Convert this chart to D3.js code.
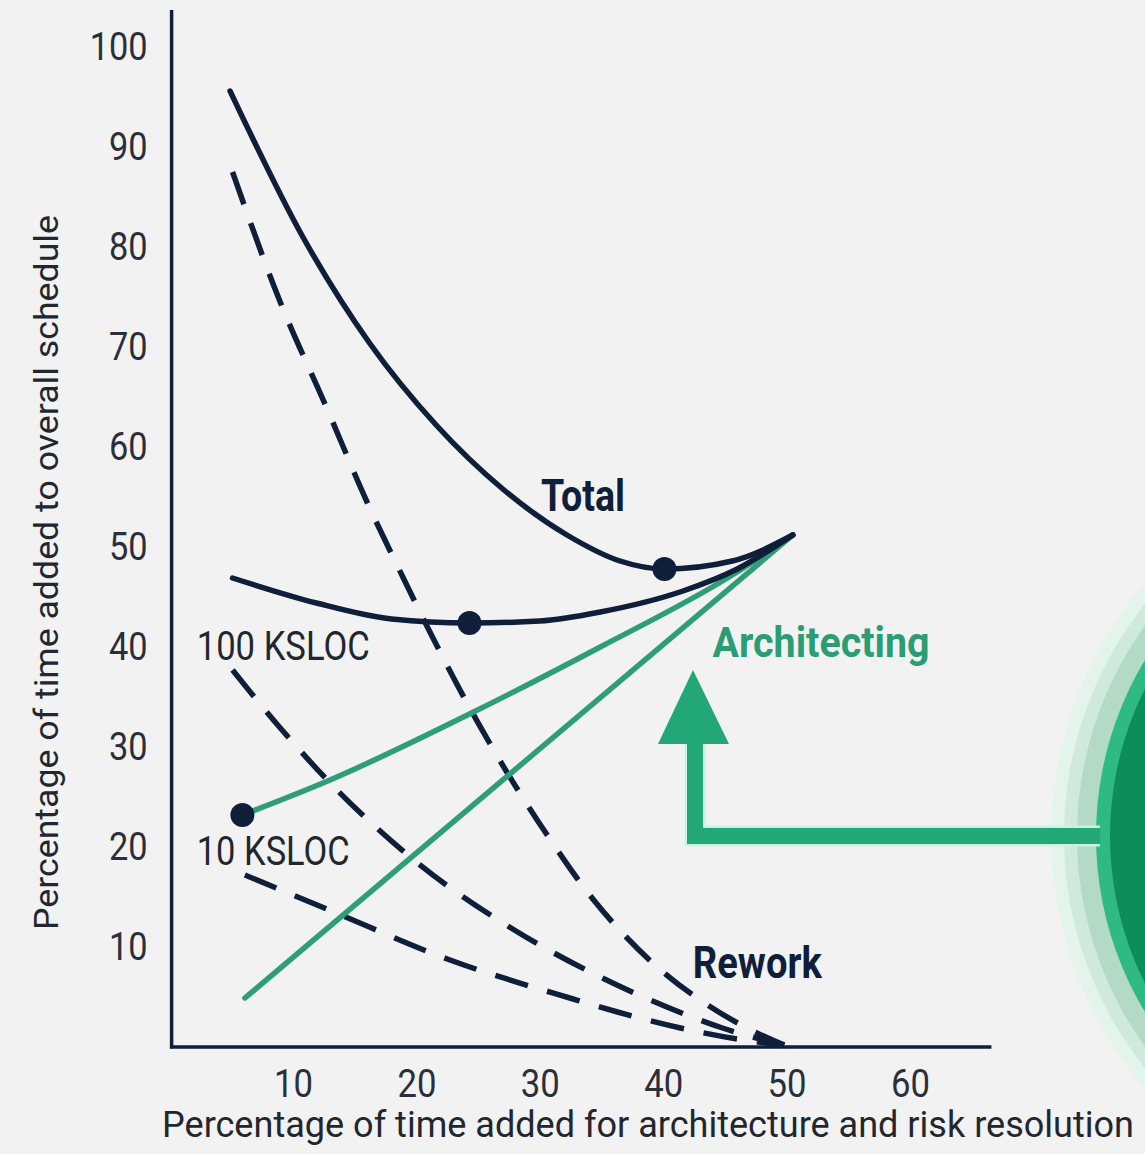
<!DOCTYPE html>
<html>
<head>
<meta charset="utf-8">
<script src="https://cdn.jsdelivr.net/npm/d3@7"></script>
<style>
  html, body { margin: 0; padding: 0; background: #f2f2f2; }
  svg { display: block; }
  text { font-family: Roboto, "Noto Sans", sans-serif; }
</style>
</head>
<body>
<svg id="chart" width="1145" height="1154"></svg>
<script>
// ---- data ----
const xTicks = [10, 20, 30, 40, 50, 60];
const yTicks = [10, 20, 30, 40, 50, 60, 70, 80, 90, 100];

const total100 = [[4.9,95.4],[10.8,80.8],[16.2,70.2],[21.6,62.0],[27.0,55.6],[32.2,51.0],[36.5,48.4],[40.1,47.6],[45.6,48.4],[50.5,51.0]];
const total10  = [[5.1,46.7],[11.9,44.2],[18.0,42.6],[24.3,42.2],[30.0,42.4],[34.9,43.3],[41.6,45.4],[46.0,47.6],[50.5,51.0]];
const arch10   = [[5.9,23.0],[13.0,26.5],[24.3,33.1],[34.9,39.8],[45.6,47.0],[50.5,51.0]];
const arch100  = [[6.1,4.7],[50.5,51.0]];
const rework100 = [[5.1,87.3],[8.9,74.5],[12.7,63.8],[16.0,54.3],[18.9,46.8],[21.3,40.8],[24.1,34.2],[26.5,29.0],[30.6,21.0],[34.3,14.6],[37.0,10.8],[39.7,7.6],[43.6,4.0],[46.8,1.7],[49.8,0]];
const rework10m = [[5.1,37.5],[8.9,31.8],[12.7,26.6],[19.7,18.6],[27.8,11.6],[34.9,6.8],[40.3,3.8],[44.8,1.7],[49.8,0]];
const rework10  = [[6.1,17.0],[13.5,13.2],[22.5,8.6],[32.7,4.6],[36.3,3.3],[41.4,1.7],[46.0,0.6],[49.8,0]];
const optimumPoints = [[40.1,47.6],[24.3,42.2],[5.9,23.0]];

const labels = [
  {text:"Total", x:30.1, y:53.4, w:84, size:44, weight:"bold", color:"#0f1f3a"},
  {text:"Rework", x:42.4, y:6.7, w:129, size:44, weight:"bold", color:"#0f1f3a"},
  {text:"Architecting", x:44.0, y:38.8, w:217, size:42, weight:"bold", color:"#2a9e72"},
  {text:"100 KSLOC", x:2.2, y:38.5, w:173, size:40, weight:"normal", color:"#22262e"},
  {text:"10 KSLOC", x:2.2, y:18.0, w:153, size:40, weight:"normal", color:"#22262e"}
];

const xTitle = "Percentage of time added for architecture and risk resolution";
const yTitle = "Percentage of time added to overall schedule";

// ---- setup ----
const navy = "#0f1f3a";
const green = "#2e9e78";
const svg = d3.select("#chart");

const x = d3.scaleLinear().domain([0, 60]).range([169.6, 910]);
const y = d3.scaleLinear().domain([0, 100]).range([1045, 45]);

// background
svg.append("rect").attr("width", 1145).attr("height", 1154).attr("fill", "#f2f2f2");

// decorative circle on right
const circ = svg.append("g");
circ.append("circle").attr("cx", 1437).attr("cy", 836).attr("r", 386).attr("fill", "#e2f4ec");
circ.append("circle").attr("cx", 1437).attr("cy", 836).attr("r", 373).attr("fill", "#cfe9dc");
circ.append("circle").attr("cx", 1437).attr("cy", 836).attr("r", 360).attr("fill", "#b3dac7");
circ.append("circle").attr("cx", 1437).attr("cy", 836).attr("r", 341).attr("fill", "#2fb985");
circ.append("circle").attr("cx", 1437).attr("cy", 836).attr("r", 327).attr("fill", "#0d8c5c");

// arrow (decoration)
const arrowColor = "#22a876";
svg.append("path")
  .attr("d", "M1100,836 L695,836 L695,740")
  .attr("fill", "none").attr("stroke", "#c9f3df").attr("stroke-width", 21)
  .attr("stroke-linejoin", "miter");
svg.append("path")
  .attr("d", "M1100,836 L695,836 L695,740")
  .attr("fill", "none").attr("stroke", arrowColor).attr("stroke-width", 16)
  .attr("stroke-linejoin", "miter");
svg.append("path")
  .attr("d", "M693,670 L729,744 L658,744 Z")
  .attr("fill", arrowColor);

// axes lines
svg.append("line").attr("x1", x(0) + 2).attr("x2", x(0) + 2)
  .attr("y1", y(103.5)).attr("y2", y(0) + 3.5)
  .attr("stroke", navy).attr("stroke-width", 3.5);
svg.append("line").attr("x1", x(0) + 0.5).attr("x2", x(66.6))
  .attr("y1", y(0) + 2).attr("y2", y(0) + 2)
  .attr("stroke", navy).attr("stroke-width", 3.5);

// tick labels via axes
const yAxis = d3.axisLeft(y).tickValues(yTicks).tickSize(0).tickPadding(0);
const gy = svg.append("g").attr("transform", `translate(${x(0)},0)`).call(yAxis);
gy.select(".domain").remove();
gy.selectAll("text")
  .attr("x", -22).attr("dy", "0.36em")
  .attr("font-size", 39).attr("fill", "#2a2f3a")
  .style("font-family", "Roboto, sans-serif")
  .attr("textLength", d => String(d).length * 19.3)
  .attr("lengthAdjust", "spacingAndGlyphs");

const xAxis = d3.axisBottom(x).tickValues(xTicks).tickSize(0).tickPadding(0);
const gx = svg.append("g").attr("transform", `translate(0,${y(0)})`).call(xAxis);
gx.select(".domain").remove();
gx.selectAll("text")
  .attr("y", 52).attr("dy", 0)
  .attr("font-size", 39).attr("fill", "#2a2f3a")
  .style("font-family", "Roboto, sans-serif")
  .attr("textLength", d => String(d).length * 19.5)
  .attr("lengthAdjust", "spacingAndGlyphs");

// axis titles
svg.append("text").attr("transform", "translate(162,1137) scale(1,1.16)")
  .attr("font-size", 32).attr("fill", "#22262e")
  .attr("textLength", 972).attr("lengthAdjust", "spacingAndGlyphs")
  .text(xTitle);
svg.append("text")
  .attr("transform", "translate(58,930) rotate(-90)")
  .attr("font-size", 33).attr("fill", "#22262e")
  .attr("textLength", 715).attr("lengthAdjust", "spacingAndGlyphs")
  .text(yTitle);

// lines
const line = d3.line().x(d => x(d[0])).y(d => y(d[1])).curve(d3.curveMonotoneX);

function draw(data, color, dashed) {
  svg.append("path").datum(data)
    .attr("d", line)
    .attr("fill", "none")
    .attr("stroke", color)
    .attr("stroke-width", 5.5)
    .attr("stroke-linecap", dashed ? "butt" : "round")
    .attr("stroke-dasharray", dashed ? "34,20" : null);
}

draw(rework100, navy, true);
draw(rework10m, navy, true);
draw(rework10, navy, true);
draw(arch100, green, false);
draw(arch10, green, false);
draw(total10, navy, false);
draw(total100, navy, false);

// optimum dots
svg.selectAll("circle.pt").data(optimumPoints).enter().append("circle")
  .attr("class", "pt")
  .attr("cx", d => x(d[0])).attr("cy", d => y(d[1]))
  .attr("r", 12).attr("fill", navy);

// labels
svg.selectAll("text.lbl").data(labels).enter().append("text")
  .attr("class", "lbl")
  .attr("x", d => x(d.x)).attr("y", d => y(d.y))
  .attr("font-size", d => d.size)
  .attr("font-weight", d => d.weight)
  .attr("fill", d => d.color)
  .attr("textLength", d => d.w)
  .attr("lengthAdjust", "spacingAndGlyphs")
  .text(d => d.text);
</script>
</body>
</html>
